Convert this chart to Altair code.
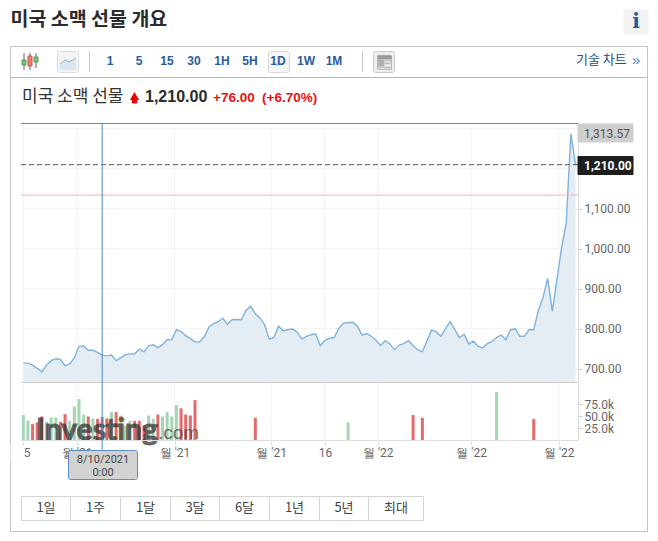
import altair as alt
import pandas as pd

prices = [714,714,709,701,692,709,720,725,723,707.5,712,727,756,757,746,746,741,734,732,734,
          720,727,735,737,737.5,749,742,757,760,752.5,760,772.5,773,797.5,792.5,782.5,775,767,767.5,779,
          804,813,817.5,826,811,822.5,823,822.5,846,856,837.5,827,810,774,778,806,795,797.5,799,792,
          774,781,785,787,757.5,771,776,778,801,814,815,816,806,784,788,781,771,758,770,762,
          747.5,759,762.5,770,758,747.5,742.5,770,797,792,781,800,817.5,797.5,777.5,786,762,769,756,752,
          762.5,768,778,784,772.5,797.5,800,781,781,797.5,797.5,846,878,926,844,922,1002,1064,1287,1210]
vol_idx = list(range(38)) + [50, 70, 84, 86, 102, 110]
vol_k = [52,40,33,37,49,38,47,47,38,54,40,70,85,53,49,45,44,48,45,58,58,51,30,40,40,40,31,51,44,53,49,58,49,73,66,53,51,83,
         46,37,52,46,100,44]
vol_dir = list("ggrrrgggrrgggg") + list("rgrrr") + list("gr") + ["o"] + list("ggrrr") + list("ggrgggg") + list("rrrr") + list("rgrrgr")
tick_idx = [0, 11.5, 32.6, 53.4, 65, 76.4, 96.5, 115.4]
tick_lab = ["15", "월 '21", "월 '21", "월 '21", "16", "월 '22", "월 '22", "월 '22"]
price_ticks = [700, 800, 900, 1000, 1100]
grid_levels = [700, 800, 900, 1000, 1100, 1200, 1300]
vol_ticks = [25, 50, 75]
timeframes = ["1", "5", "15", "30", "1H", "5H", "1D", "1W", "1M"]
tf_x = [110, 139, 167, 194, 222, 250, 278, 306, 334]
ranges = ["1일", "1주", "1달", "3달", "6달", "1년", "5년", "최대"]
range_edges = [21.5, 70.5, 120.5, 170.5, 219.5, 269.5, 319.5, 368.5, 423.5]
last_price = 1210
prev_line = 1134
cross_idx = 17
area_floor = 666

CJK = "Noto Sans CJK KR"
LAT = "Liberation Sans"
ROB = "Roboto"

W, H = 642, 525
px_x = alt.Scale(domain=[8, 8 + W], range=[0, W])
px_y = alt.Scale(domain=[8, 8 + H], range=[0, H])
idx_scale = alt.Scale(domain=[0, 119], range=[15.3, 567.5], padding=0)
price_scale = alt.Scale(domain=[700, 1100], range=[360.7, 200.7])
vol_scale = alt.Scale(domain=[0, 100], range=[432, 384])

def X(f="x"): return alt.X(f"{f}:Q", scale=px_x, axis=None)
def Y(f="y"): return alt.Y(f"{f}:Q", scale=px_y, axis=None)

def rects(rows, **kw):
    d = pd.DataFrame(rows, columns=["x", "x2", "y", "y2", "f", "s"])
    return alt.Chart(d).mark_rect(strokeWidth=1, **kw).encode(
        x=X(), x2="x2:Q", y=Y(), y2="y2:Q",
        fill=alt.Fill("f:N", scale=None), stroke=alt.Stroke("s:N", scale=None))

def lines(rows, **kw):
    d = pd.DataFrame(rows, columns=["x", "x2", "y", "y2", "c"])
    return alt.Chart(d).mark_rule(strokeWidth=1, **kw).encode(
        x=X(), x2="x2:Q", y=Y(), y2="y2:Q", color=alt.Color("c:N", scale=None))

def texts(rows, font=LAT, size=12, color="#333", weight="normal", align="left"):
    d = pd.DataFrame(rows, columns=["t", "x", "y"])
    return alt.Chart(d).mark_text(font=font, fontSize=size, color=color, fontWeight=weight,
                                  align=align, baseline="middle").encode(x=X(), y=Y(), text="t:N")

L = []
# frame and chrome
L.append(rects([[10.5, 647.5, 46.5, 531.5, "transparent", "#c4c4c4"]]))
L.append(lines([[11, 647, 77.5, 77.5, "#b8b8b8"], [89.5, 89.5, 51, 72, "#c8c8c8"], [362.5, 362.5, 51, 72, "#c8c8c8"]]))
L.append(rects([[624, 648, 10, 34, "#f2f2f2", "#f2f2f2"]]))
L.append(texts([["i", 636, 22]], font="DejaVu Serif", size=20, color="#1a5aa8", weight="bold", align="center"))
L.append(texts([["미국 소맥 선물 개요", 10.5, 20]], font=CJK, size=19.5, color="#2b2b2b", weight="bold"))

# toolbar icons
L.append(rects([[268.5, 289.5, 51.5, 72.5, "#f5f5f5", "#d8d8d8"], [57.5, 78.5, 51.5, 72.5, "#f4f4f4", "#dcdcdc"],
                [373.5, 394.5, 51.5, 72.5, "#eeeeee", "#cccccc"]], cornerRadius=2))
L.append(lines([[24, 24, 53, 70, "#666666"], [30, 30, 53, 70, "#666666"], [36, 36, 53, 68, "#666666"]]))
L.append(rects([[22, 26, 60, 65, "#7cc07c", "#5a9a5a"], [28, 32, 56, 66, "#ee7a72", "#c85a52"], [34, 38, 57, 62, "#7cc07c", "#5a9a5a"]]))
icon = pd.DataFrame({"x": [60, 65, 69, 76], "y": [64, 60, 62, 58], "y2": [70, 70, 70, 70]})
L.append(alt.Chart(icon).mark_area(color="#cfe0f0", line={"color": "#8fb6dc", "strokeWidth": 1}).encode(x=X(), y=Y(), y2="y2:Q"))
L.append(rects([[377.5, 391.5, 55.5, 69.5, "#f8f8f8", "#bbbbbb"]]))
L.append(rects([[378, 391, 56, 59, "#9a9a9a", "#9a9a9a"], [378, 384, 60, 66, "#b0b0b0", "#b0b0b0"],
                [385, 391, 60, 61, "#c0c0c0", "#c0c0c0"], [385, 391, 63, 64, "#c0c0c0", "#c0c0c0"],
                [378, 391, 67, 68, "#c0c0c0", "#c0c0c0"]]))
L.append(texts([[t, x, 60.5] for t, x in zip(timeframes, tf_x)], size=12, color="#2b5b9e", weight="bold", align="center"))
L.append(texts([["기술 차트", 576, 60]], font=CJK, size=13, color="#1f4e8c"))
L.append(texts([["»", 632, 60]], size=15, color="#4a7fc0"))

# quote header
L.append(texts([["미국 소맥 선물", 22, 97]], font=CJK, size=17, color="#333333"))
L.append(alt.Chart(pd.DataFrame({"x": [134.5], "y": [96]})).mark_point(shape="triangle-up", filled=True, size=85, color="#ee0000", opacity=1).encode(x=X(), y=Y()))
L.append(rects([[132.5, 136.5, 99, 103, "#ee0000", "#ee0000"]]))
L.append(texts([["1,210.00", 145, 97]], size=16, color="#2b2b2b", weight="bold"))
L.append(texts([["+76.00", 213, 98], ["(+6.70%)", 262, 98]], size=13.5, color="#ee1111", weight="bold"))

# grid
grid_v = pd.DataFrame({"i": tick_idx})
L.append(alt.Chart(grid_v).mark_rule(color="#f2f2f2", strokeWidth=1).encode(
    x=alt.X("i:Q", scale=idx_scale, axis=alt.Axis(
        values=tick_idx, orient="bottom", offset=-92, domain=False, grid=False, tickColor="#dddddd", tickSize=4,
        labelFont=ROB, labelFontSize=12, labelColor="#666666", labelPadding=2, labelOverlap=False, labelFlush=False,
        labelBound=False, title=None,
        labelExpr=" : ".join(f"datum.value == {v} ? \"{t}\"" for v, t in zip(tick_idx, tick_lab)) + " : ''")),
    y=alt.value(116), y2=alt.value(433)))
L.append(alt.Chart(pd.DataFrame({"p": grid_levels})).mark_rule(color="#f2f2f2", strokeWidth=1).encode(
    y=alt.Y("p:Q", scale=price_scale, axis=None), x=alt.value(14), x2=alt.value(570)))

# price area
df = pd.DataFrame({"i": list(range(len(prices))), "p": prices, "base": area_floor})
L.append(alt.Chart(df).mark_area(color="#e4edf4", opacity=1).encode(
    x=alt.X("i:Q", scale=idx_scale, axis=None),
    y=alt.Y("p:Q", scale=price_scale, axis=alt.Axis(
        orient="right", offset=-72, values=price_ticks, format=",.2f", domain=False, grid=False, tickColor="#cccccc", tickSize=4,
        labelFont=ROB, labelFontSize=12, labelColor="#666666", labelPadding=2, title=None, labelOverlap=False, labelBound=False)),
    y2="base:Q"))
L.append(alt.Chart(df).mark_line(color="#7fb2dc", strokeWidth=1.4).encode(
    x=alt.X("i:Q", scale=idx_scale, axis=None), y=alt.Y("p:Q", scale=price_scale, axis=None)))

# volume
vd = pd.DataFrame({"i": vol_idx, "v": vol_k, "d": vol_dir})
L.append(alt.Chart(vd).mark_bar(size=3).encode(
    x=alt.X("i:Q", scale=idx_scale, axis=None),
    y=alt.Y("v:Q", scale=vol_scale, axis=alt.Axis(
        orient="right", offset=-72, values=vol_ticks, domain=False, grid=False, tickColor="#cccccc", tickSize=4,
        labelFont=ROB, labelFontSize=12, labelColor="#666666", labelPadding=2, title=None, labelOverlap=False, labelBound=False,
        labelExpr="format(datum.value, '.1f') + 'k'")),
    color=alt.Color("d:N", scale=alt.Scale(domain=["g", "r", "o"], range=["#a6d5b6", "#e26a6a", "#fbcb84"]), legend=None)))

# watermark
L.append(alt.Chart(pd.DataFrame({"x": [36], "y": [440], "t": ["Investing"]})).mark_text(
    font="Lato", fontSize=30, fontWeight="bold", color="#333333", stroke="#333333", strokeWidth=0.9, opacity=0.75,
    align="left", baseline="alphabetic"
).encode(x=X(), y=Y(), text="t:N"))
L.append(alt.Chart(pd.DataFrame({"x": [158], "y": [439], "t": [".com"]})).mark_text(
    font=LAT, fontSize=19, color="#444444", opacity=0.72, align="left", baseline="alphabetic"
).encode(x=X(), y=Y(), text="t:N"))

# frame lines of the plot
L.append(lines([[21, 578, 382.5, 382.5, "#cccccc"], [21, 578, 440.5, 440.5, "#dddddd"], [578.5, 578.5, 124, 441, "#dddddd"],
                [21, 578, 123.5, 123.5, "#5b8ec4"]]))
L.append(alt.Chart(pd.DataFrame({"p": [prev_line]})).mark_rule(color="#f8b0b0", strokeWidth=1).encode(
    y=alt.Y("p:Q", scale=price_scale, axis=None), x=alt.value(13), x2=alt.value(570)))
L.append(alt.Chart(pd.DataFrame({"p": [last_price]})).mark_rule(color="#555555", strokeWidth=1, strokeDash=[5, 3]).encode(
    y=alt.Y("p:Q", scale=price_scale, axis=None), x=alt.value(13), x2=alt.value(570)))
L.append(alt.Chart(pd.DataFrame({"i": [cross_idx]})).mark_rule(color="#4f86c6", strokeWidth=1).encode(
    x=alt.X("i:Q", scale=idx_scale, axis=None), y=alt.value(116), y2=alt.value(442)))

# clip for the first x label
L.append(rects([[11, 22, 444, 462, "#ffffff", "#ffffff"]]))

# price flags
L.append(rects([[578, 633, 124, 142, "#cfcfcf", "#cfcfcf"]]))
L.append(rects([[578, 633, 156.5, 174.5, "#1e1e1e", "#1e1e1e"]]))
L.append(texts([["1,313.57", 584, 133.5]], font=ROB, size=12, color="#555555"))
L.append(texts([["1,210.00", 584, 165.5]], font=ROB, size=12, color="#ffffff", weight="bold"))

# crosshair date flag
L.append(rects([[68.5, 137.5, 450.5, 479.5, "#d2d2d2", "#5b8ec4"]], cornerRadius=2))
L.append(texts([["8/10/2021", 103, 459.5], ["0:00", 103, 472.5]], font=ROB, size=11, color="#444444", align="center"))

# range buttons
L.append(rects([[a, b, 496.5, 520.5, "transparent", "#d4d4d4"] for a, b in zip(range_edges[:-1], range_edges[1:])]))
L.append(texts([[t, (a + b) / 2, 508] for t, a, b in zip(ranges, range_edges[:-1], range_edges[1:])],
               font=CJK, size=13, color="#444444", align="center"))

chart = alt.layer(*L).resolve_scale(x="independent", y="independent", color="independent", fill="independent", stroke="independent").properties(
    width=W, height=H, padding=0, autosize=alt.AutoSizeParams(type="none")
).configure_view(stroke=None).configure_axis(tickOpacity=1)

chart.save("out.html", embed_options={"renderer": "svg", "actions": False})
